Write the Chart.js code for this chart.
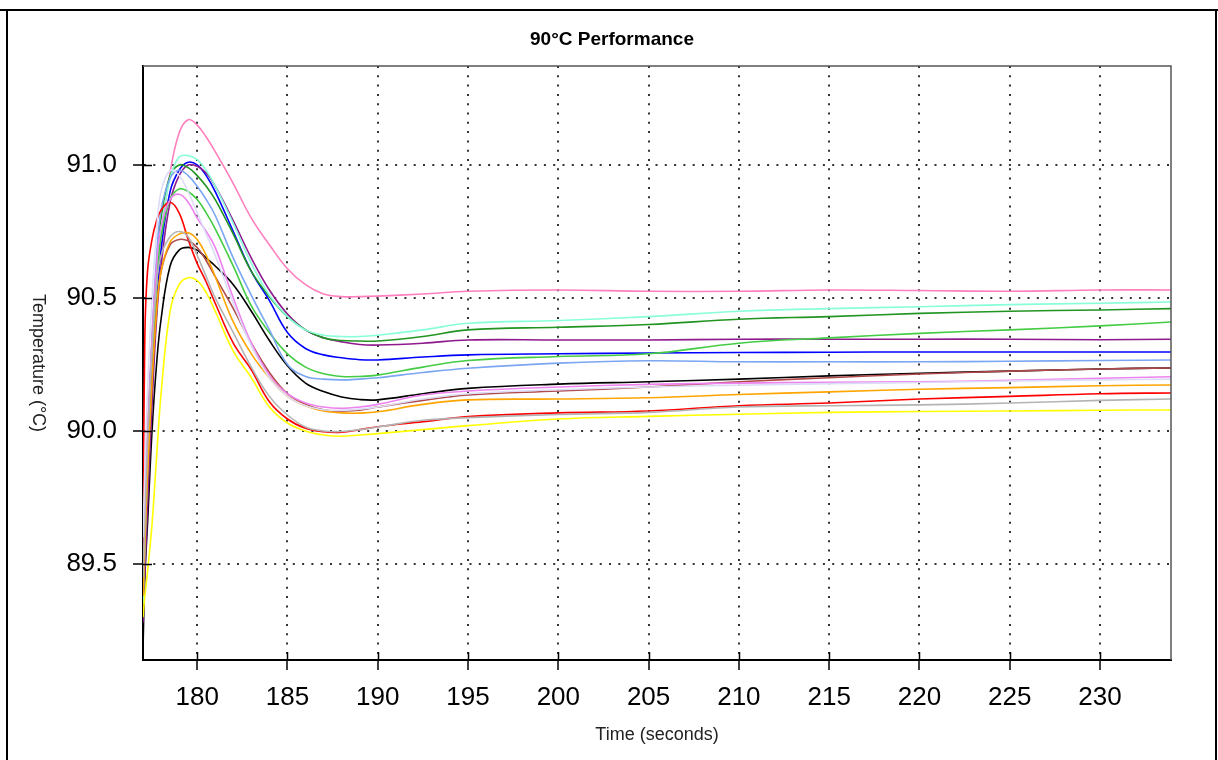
<!DOCTYPE html>
<html>
<head>
<meta charset="utf-8">
<script src="https://cdn.jsdelivr.net/npm/chart.js@4.4.0/dist/chart.umd.min.js"></script>
<style>
  html, body { margin: 0; padding: 0; background: #fff; }
  canvas { display: block; }
</style>
</head>
<body>
<canvas id="perfChart" width="1218" height="760"></canvas>
<script>
const FONT = "'Liberation Sans', Arial, sans-serif";

const chartTitle = "90°C Performance";
const xTitle = "Time (seconds)";
const yTitle = "Temperature (°C)";

const xTicks = [180, 185, 190, 195, 200, 205, 210, 215, 220, 225, 230];
const yTicks = [89.5, 90.0, 90.5, 91.0];

const times = [177, 177.1, 177.25, 177.5, 177.75, 178, 178.5, 179, 179.5, 180, 180.5, 181, 182, 183, 184, 185, 186, 187, 188, 189, 190, 192.5, 195, 200, 205, 210, 215, 220, 225, 230, 234];

const pink = [89.6, 89.82, 90.02, 90.33, 90.56, 90.73, 90.97, 91.12, 91.17, 91.15, 91.105, 91.05, 90.93, 90.80, 90.70, 90.61, 90.55, 90.515, 90.505, 90.505, 90.507, 90.515, 90.525, 90.53, 90.525, 90.525, 90.53, 90.528, 90.525, 90.53, 90.53];
const aqua = [89.35, 89.55, 89.85, 90.25, 90.55, 90.75, 90.95, 91.03, 91.035, 91.02, 90.98, 90.92, 90.78, 90.63, 90.51, 90.43, 90.38, 90.36, 90.355, 90.355, 90.36, 90.38, 90.405, 90.415, 90.43, 90.45, 90.46, 90.467, 90.475, 90.48, 90.485];
const darkGreen = [89.4, 89.6, 89.9, 90.3, 90.6, 90.8, 90.96, 91.0, 90.99, 90.96, 90.92, 90.87, 90.74, 90.6, 90.505, 90.43, 90.38, 90.35, 90.34, 90.338, 90.338, 90.355, 90.38, 90.39, 90.40, 90.42, 90.43, 90.442, 90.45, 90.455, 90.46];
const green = [89.4, 89.6, 89.88, 90.25, 90.55, 90.73, 90.87, 90.91, 90.9, 90.87, 90.82, 90.76, 90.62, 90.47, 90.37, 90.29, 90.24, 90.215, 90.205, 90.205, 90.21, 90.24, 90.265, 90.28, 90.29, 90.33, 90.35, 90.367, 90.38, 90.395, 90.41];
const purple = [89.28, 89.45, 89.72, 90.1, 90.42, 90.62, 90.86, 90.96, 91.0, 90.995, 90.97, 90.92, 90.79, 90.65, 90.53, 90.44, 90.38, 90.35, 90.335, 90.325, 90.323, 90.33, 90.342, 90.342, 90.342, 90.345, 90.345, 90.345, 90.345, 90.343, 90.345];
const blue = [89.35, 89.5, 89.78, 90.15, 90.47, 90.68, 90.9, 90.98, 91.01, 91.0, 90.96, 90.9, 90.75, 90.6, 90.49, 90.37, 90.31, 90.286, 90.275, 90.268, 90.267, 90.278, 90.286, 90.29, 90.293, 90.295, 90.296, 90.297, 90.297, 90.297, 90.297];
const cornflower = [89.45, 89.65, 89.95, 90.35, 90.65, 90.83, 90.95, 90.98, 90.96, 90.92, 90.87, 90.81, 90.65, 90.51, 90.38, 90.25, 90.205, 90.195, 90.192, 90.195, 90.2, 90.22, 90.236, 90.255, 90.264, 90.26, 90.26, 90.26, 90.262, 90.265, 90.267];
const black = [89.18, 89.45, 89.65, 90.0, 90.25, 90.42, 90.62, 90.68, 90.69, 90.68, 90.65, 90.62, 90.55, 90.45, 90.34, 90.245, 90.18, 90.148, 90.128, 90.118, 90.117, 90.14, 90.16, 90.176, 90.185, 90.195, 90.207, 90.217, 90.225, 90.233, 90.237];
const brown = [89.4, 89.6, 89.85, 90.2, 90.45, 90.6, 90.7, 90.72, 90.715, 90.69, 90.64, 90.58, 90.46, 90.33, 90.22, 90.14, 90.1, 90.08, 90.075, 90.078, 90.09, 90.115, 90.135, 90.15, 90.165, 90.185, 90.2, 90.214, 90.225, 90.233, 90.237];
const orange = [89.38, 89.58, 89.83, 90.18, 90.45, 90.6, 90.71, 90.74, 90.745, 90.72, 90.66, 90.58, 90.41, 90.29, 90.2, 90.13, 90.095, 90.075, 90.068, 90.067, 90.072, 90.1, 90.117, 90.12, 90.125, 90.137, 90.147, 90.157, 90.163, 90.17, 90.173];
const violet = [89.45, 89.65, 89.95, 90.35, 90.62, 90.77, 90.87, 90.89, 90.86, 90.8, 90.75, 90.69, 90.5, 90.33, 90.21, 90.14, 90.105, 90.09, 90.085, 90.09, 90.1, 90.135, 90.15, 90.165, 90.175, 90.18, 90.183, 90.185, 90.19, 90.198, 90.204];
const lavender = [89.6, 89.85, 90.15, 90.5, 90.75, 90.9, 90.98, 90.96, 90.9, 90.82, 90.74, 90.66, 90.48, 90.32, 90.2, 90.13, 90.095, 90.08, 90.078, 90.082, 90.09, 90.12, 90.14, 90.155, 90.165, 90.172, 90.178, 90.182, 90.188, 90.192, 90.195];
const red = [89.55, 90.35, 90.6, 90.72, 90.79, 90.83, 90.86, 90.82, 90.72, 90.63, 90.56, 90.48, 90.33, 90.23, 90.11, 90.045, 90.01, 89.997, 89.995, 90.005, 90.016, 90.035, 90.054, 90.068, 90.075, 90.095, 90.105, 90.12, 90.13, 90.14, 90.143];
const gray = [89.45, 89.65, 89.95, 90.3, 90.55, 90.66, 90.73, 90.75, 90.73, 90.66, 90.58, 90.5, 90.37, 90.24, 90.13, 90.06, 90.015, 90.0, 89.998, 90.005, 90.015, 90.04, 90.05, 90.062, 90.07, 90.09, 90.095, 90.098, 90.105, 90.115, 90.12];
const yellow = [89.3, 89.38, 89.47, 89.65, 89.9, 90.14, 90.45, 90.55, 90.576, 90.565, 90.52, 90.45, 90.3, 90.2, 90.09, 90.03, 90.0, 89.985, 89.98, 89.985, 89.99, 90.005, 90.02, 90.045, 90.055, 90.063, 90.07, 90.073, 90.075, 90.078, 90.079];

const series = [
    { name: "lavender", values: lavender, color: "#dcdcf6" },
    { name: "yellow", values: yellow, color: "#ffff00" },
    { name: "gray", values: gray, color: "#b4b4b4" },
    { name: "orange", values: orange, color: "#ffa500" },
    { name: "violet", values: violet, color: "#ee82ee" },
    { name: "brown", values: brown, color: "#b04a4a" },
    { name: "red", values: red, color: "#ff0000" },
    { name: "cornflower", values: cornflower, color: "#7ba6f2" },
    { name: "green", values: green, color: "#44cc44" },
    { name: "aqua", values: aqua, color: "#88ffd8" },
    { name: "darkGreen", values: darkGreen, color: "#229422" },
    { name: "purple", values: purple, color: "#8e1a8e" },
    { name: "blue", values: blue, color: "#0000ff" },
    { name: "black", values: black, color: "#000000" },
    { name: "pink", values: pink, color: "#ff7fbf" }
];

const chartDecor = {
    id: "chartDecor",
    beforeDraw(chart) {
        const ctx = chart.ctx;
        ctx.save();
        ctx.fillStyle = "#fff";
        ctx.fillRect(0, 0, chart.width, chart.height);
        ctx.restore();
    },
    afterDraw(chart) {
        const { ctx, chartArea: a, scales: { x, y } } = chart;
        ctx.save();

        // outer frame
        ctx.strokeStyle = "#000";
        ctx.lineWidth = 2;
        ctx.beginPath();
        ctx.moveTo(0, 10); ctx.lineTo(chart.width, 10);
        ctx.moveTo(7, 10); ctx.lineTo(7, chart.height);
        ctx.moveTo(1216, 10); ctx.lineTo(1216, chart.height);
        ctx.stroke();

        // top and right edges of the plot box
        ctx.strokeStyle = "#555";
        ctx.lineWidth = 1.5;
        ctx.beginPath();
        ctx.moveTo(a.left, a.top); ctx.lineTo(a.right, a.top); ctx.lineTo(a.right, a.bottom);
        ctx.stroke();

        // tick marks crossing into the plot
        ctx.strokeStyle = "#000";
        ctx.lineWidth = 1.5;
        ctx.beginPath();
        x.ticks.forEach(t => {
            const px = Math.round(x.getPixelForValue(t.value)) + 0.5;
            ctx.moveTo(px, a.bottom); ctx.lineTo(px, a.bottom - 8);
        });
        y.ticks.forEach(t => {
            const py = Math.round(y.getPixelForValue(t.value)) + 0.5;
            ctx.moveTo(a.left, py); ctx.lineTo(a.left + 9, py);
        });
        ctx.stroke();

        // titles
        ctx.fillStyle = "#000";
        ctx.textAlign = "center";
        ctx.textBaseline = "middle";
        ctx.font = "bold 19px " + FONT;
        ctx.fillText(chartTitle, 612, 40);

        ctx.fillStyle = "#222";
        ctx.font = "18px " + FONT;
        ctx.fillText(xTitle, (a.left + a.right) / 2, 735);

        ctx.translate(38, (a.top + a.bottom) / 2);
        ctx.rotate(Math.PI / 2);
        ctx.fillText(yTitle, 0, 0);
        ctx.restore();
    }
};

const ctx = document.getElementById("perfChart").getContext("2d");

new Chart(ctx, {
    type: "line",
    data: {
        datasets: series.map(s => ({
            label: s.name,
            data: times.map((t, i) => ({ x: t, y: s.values[i] })),
            borderColor: s.color,
            backgroundColor: s.color,
            borderWidth: 1.6,
            pointRadius: 0,
            fill: false,
            tension: 0.4
        }))
    },
    options: {
        responsive: false,
        animation: false,
        devicePixelRatio: 1,
        layout: { padding: { top: 66, right: 47, left: 0, bottom: 0 } },
        plugins: {
            legend: { display: false },
            tooltip: { enabled: false }
        },
        scales: {
            x: {
                type: "linear",
                min: 177,
                max: 233.93,
                afterBuildTicks: s => { s.ticks = xTicks.map(v => ({ value: v })); },
                afterFit: s => { s.height = 100; },
                grid: {
                    color: "#333",
                    lineWidth: 2,
                    tickLength: 10,
                    tickColor: "#000",
                    tickWidth: 1.5,
                    tickBorderDash: []
                },
                border: { display: true, color: "#000", width: 2, dash: [2, 7.3] },
                ticks: {
                    color: "#000",
                    padding: 12,
                    maxRotation: 0,
                    font: { family: FONT, size: 26 },
                    callback: v => String(v)
                }
            },
            y: {
                min: 89.139,
                max: 91.372,
                afterBuildTicks: s => { s.ticks = yTicks.map(v => ({ value: v })); },
                afterFit: s => { s.width = 143; },
                grid: {
                    color: "#333",
                    lineWidth: 2,
                    tickLength: 10,
                    tickColor: "#000",
                    tickWidth: 1.5,
                    tickBorderDash: []
                },
                border: { display: true, color: "#000", width: 2, dash: [2, 7.3] },
                ticks: {
                    color: "#000",
                    padding: 16,
                    font: { family: FONT, size: 26 },
                    callback: v => v.toFixed(1)
                }
            }
        }
    },
    plugins: [chartDecor]
});
</script>
</body>
</html>
